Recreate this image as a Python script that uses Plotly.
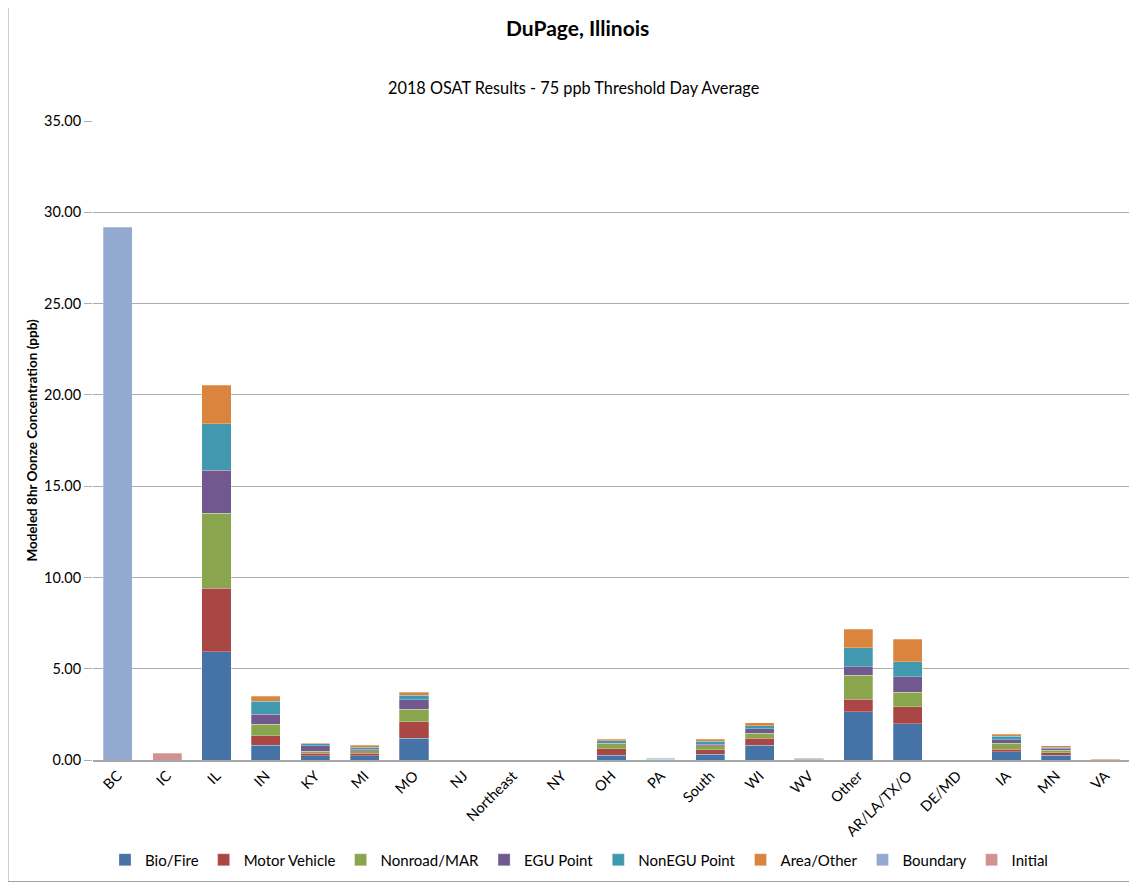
import plotly.graph_objects as go

categories = ["BC", "IC", "IL", "IN", "KY", "MI", "MO", "NJ", "Northeast", "NY", "OH", "PA",
              "South", "WI", "WV", "Other", "AR/LA/TX/O", "DE/MD", "IA", "MN", "VA"]

bio_fire = [0, 0, 5.93, 0.82, 0.24, 0.22, 1.19, 0, 0, 0, 0.26, 0.03, 0.31, 0.82, 0.02, 2.65, 1.99, 0, 0.46, 0.27, 0.005]
motor_vehicle = [0, 0, 3.47, 0.51, 0.13, 0.16, 0.91, 0, 0, 0, 0.36, 0.02, 0.25, 0.37, 0.02, 0.67, 0.93, 0, 0.14, 0.13, 0.005]
nonroad_mar = [0, 0, 4.11, 0.62, 0.12, 0.12, 0.69, 0, 0, 0, 0.26, 0.02, 0.22, 0.27, 0.02, 1.33, 0.79, 0, 0.33, 0.13, 0.005]
egu_point = [0, 0, 2.36, 0.55, 0.28, 0.10, 0.50, 0, 0, 0, 0.05, 0.01, 0.08, 0.24, 0.02, 0.46, 0.84, 0, 0.18, 0.11, 0.005]
nonegu_point = [0, 0, 2.55, 0.73, 0.11, 0.10, 0.27, 0, 0, 0, 0.13, 0.01, 0.16, 0.18, 0.01, 1.04, 0.83, 0, 0.19, 0.07, 0.005]
area_other = [0, 0, 2.12, 0.27, 0.05, 0.10, 0.15, 0, 0, 0, 0.09, 0.02, 0.13, 0.16, 0.04, 1.01, 1.23, 0, 0.11, 0.07, 0.01]
boundary = [29.19, 0, 0, 0, 0, 0, 0, 0, 0, 0, 0, 0, 0, 0, 0, 0, 0, 0, 0, 0, 0]
initial = [0, 0.38, 0, 0, 0, 0, 0, 0, 0, 0, 0, 0, 0, 0, 0, 0, 0, 0, 0, 0, 0]

series = [
    ("Bio/Fire", bio_fire, "#4572A7"),
    ("Motor Vehicle", motor_vehicle, "#AA4643"),
    ("Nonroad/MAR", nonroad_mar, "#89A54E"),
    ("EGU Point", egu_point, "#71588F"),
    ("NonEGU Point", nonegu_point, "#4198AF"),
    ("Area/Other", area_other, "#DB843D"),
    ("Boundary", boundary, "#93A9CF"),
    ("Initial", initial, "#D19392"),
]

FONT = "Lato, Carlito, Calibri, sans-serif"

# page offset (browser body margin) compensation
OX, OY = 8, 8
L, R, T, B = 93 - OX, 1137 - (1130 - OX), 121 - OY, 883 - (760 - OY)
PW = 1137 - L - R
PH = 883 - T - B

def px(xs):
    return (xs - OX - L) / PW

def py(ys):
    return (883 - B - (ys - OY)) / PH

fig = go.Figure()
for name, vals, color in series:
    fig.add_trace(go.Bar(
        name=name,
        x=categories,
        y=[v if v else None for v in vals],
        marker=dict(color=color, line=dict(color="rgba(255,255,255,0.45)", width=0.6)),
    ))

fig.update_layout(
    width=1137, height=883,
    barmode="stack",
    bargap=0.41,
    paper_bgcolor="white",
    plot_bgcolor="white",
    margin=dict(l=L, r=R, t=T, b=B),
    font=dict(family=FONT, size=14, color="#000000"),
    showlegend=True,
    legend=dict(
        orientation="h",
        x=px(579), xanchor="center",
        y=py(860), yanchor="middle",
        font=dict(family=FONT, size=15, color="#000000"),
        traceorder="normal",
        itemwidth=30,
        tracegroupgap=0,
    ),
    xaxis=dict(
        type="category",
        tickangle=-45,
        tickfont=dict(family=FONT, size=14.5, color="#000000"),
        showline=True, linecolor="#A6A6A6", linewidth=1.5,
        ticks="", showgrid=False,
    ),
    yaxis=dict(
        range=[0, 35],
        tick0=0, dtick=5,
        tickformat=".2f",
        tickfont=dict(family=FONT, size=14.5, color="#000000"),
        showgrid=True, gridcolor="#ADADAD", gridwidth=1,
        ticks="outside", ticklen=8, tickcolor="#ADADAD",
        showline=False, zeroline=False,
        title=dict(text="<b>Modeled 8hr Oonze Concentration (ppb)</b>",
                   font=dict(family=FONT, size=13.5, color="#000000"),
                   standoff=3),
    ),
    annotations=[
        dict(text="<b>DuPage, Illinois</b>", xref="paper", yref="paper",
             x=px(577), y=py(27), xanchor="center", yanchor="middle",
             showarrow=False, font=dict(family=FONT, size=21, color="#000000")),
        dict(text="2018 OSAT Results - 75 ppb Threshold Day Average", xref="paper", yref="paper",
             x=px(573), y=py(88), xanchor="center", yanchor="middle",
             showarrow=False, font=dict(family=FONT, size=16.3, color="#000000")),
    ],
    shapes=[
        dict(type="rect", xref="paper", yref="paper",
             x0=px(8), x1=px(1160),
             y0=py(881.5), y1=py(2),
             line=dict(color="#A0A0A0", width=1), fillcolor="rgba(0,0,0,0)", layer="below"),
    ],
)

fig.write_html("out.html")
